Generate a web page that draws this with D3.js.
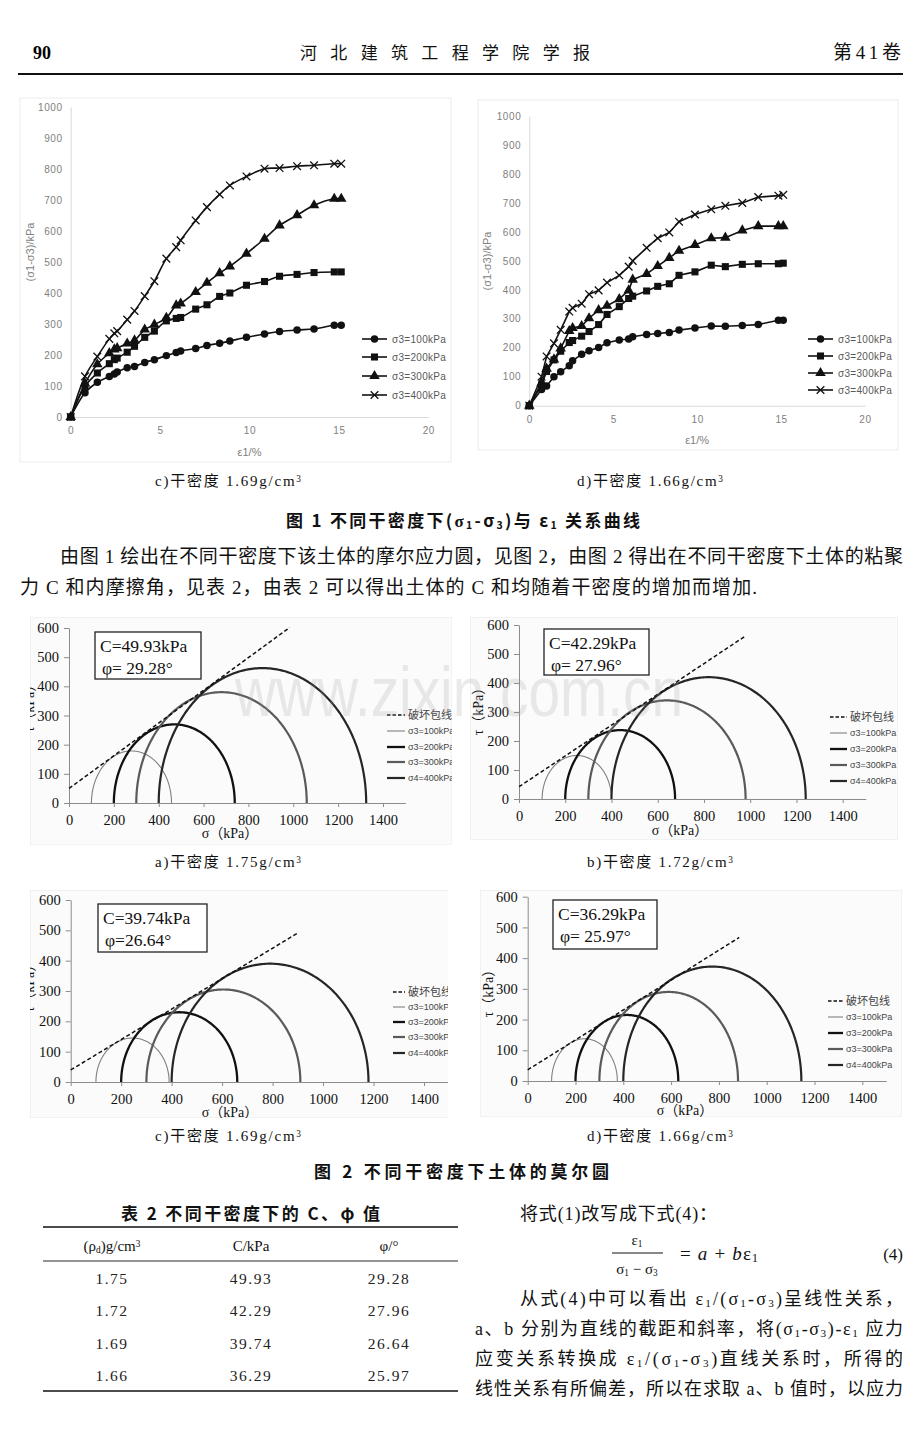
<!DOCTYPE html>
<html><head><meta charset="utf-8">
<script src="https://cdn.jsdelivr.net/npm/d3@7"></script>
<style>body{margin:0;background:#fff}svg{display:block}</style>
</head><body>
<svg id="page" width="920" height="1430"></svg>
<script>
// ---------------- DATA ----------------
// Fig.1 c) dry density 1.69
const strainC = [0,0.8,1.49,2.16,2.44,2.6,3.16,3.57,4.14,4.68,5.35,5.9,6.15,6.99,7.62,8.33,8.9,9.83,10.84,11.68,12.66,13.61,14.74,15.13];
const devC100 = [0,78,112,131,139,145,159,163,176,185,198,208,213,221,231,238,245,257,268,276,281,284,296,296];
const devC200 = [0,99,142,172,185,190,209,228,257,277,310,318,321,348,362,389,400,425,437,454,460,466,468,468];
const devC300 = [0,108,170,206,218,222,237,247,282,298,320,360,366,403,433,464,486,527,575,618,651,683,704,704];
const devC400 = [0,131,195,252,270,277,314,342,390,438,511,548,570,634,677,718,747,776,801,803,809,812,817,817];
// Fig.1 d) dry density 1.66
const strainD = [0,0.73,1.03,1.47,1.87,2.38,2.58,3.12,3.56,4.13,4.63,5.36,5.92,6.16,6.99,7.65,8.34,8.92,9.87,10.84,11.68,12.69,13.64,14.84,15.13];
const devD100 = [0,56,68,100,117,138,155,178,190,201,217,227,230,238,246,249,253,261,268,275,274,277,280,295,295];
const devD200 = [0,72,118,158,188,218,225,240,256,280,315,342,370,378,396,412,421,450,462,485,480,488,490,490,492];
const devD300 = [0,78,128,160,198,258,268,275,302,330,345,368,398,435,455,482,510,535,555,578,580,605,620,620,620];
const devD400 = [0,100,170,215,262,325,338,352,385,398,425,450,480,500,545,578,598,635,660,678,690,700,720,725,728];
const strainSeriesNames = ["σ3=100kPa","σ3=200kPa","σ3=300kPa","σ3=400kPa"];
const strainTicksY = [0,100,200,300,400,500,600,700,800,900,1000];
const strainTicksX = [0,5,10,15,20];

// Fig.2 Mohr circles
const sigma3 = [100,200,300,400];
const sigma1A = [457,739,1060,1325];
const sigma1B = [400,675,980,1240];
const sigma1C = [390,660,910,1180];
const sigma1D = [375,630,880,1145];
const cohesion = [49.93,42.29,39.74,36.29];
const frictionAngle = [29.28,27.96,26.64,25.97];
const envelopeEnd = [984,982,901,885];
const mohrLegend = ["破坏包线","σ3=100kPa","σ3=200kPa","σ3=300kPa","σ4=400kPa"];
const mohrTicksY = [0,100,200,300,400,500,600];
const mohrTicksX = [0,200,400,600,800,1000,1200,1400];
const dryDensity = ["1.75","1.72","1.69","1.66"];

// ---------------- SETUP ----------------
const svg = d3.select('#page');
const CJK = '"Noto Sans CJK SC"';
const SERIF = '"Liberation Serif","Times New Roman",' + CJK;
const SANS = '"Liberation Sans",Arial,' + CJK;
const defs = svg.append('defs');
const fmtInt = d3.format('d');

function rich(g, x, y, parts, o) {
  o = o || {};
  const fs = o.fs || 18;
  const t = g.append('text').attr('x', x).attr('y', y)
    .attr('font-family', o.ff || SERIF).attr('font-size', fs).attr('fill', o.fill || '#111');
  if (o.anchor) t.attr('text-anchor', o.anchor);
  if (o.len) t.attr('textLength', o.len).attr('lengthAdjust', 'spacing');
  if (o.weight) t.attr('font-weight', o.weight);
  parts.forEach(p => {
    if (typeof p === 'string') t.append('tspan').text(p);
    else {
      const s = t.append('tspan').text(p.s).attr('font-size', fs * 0.62)
        .attr('baseline-shift', p.sub ? '-20%' : '45%');
      if (p.ff) s.attr('font-family', p.ff);
      if (p.it) s.attr('font-style', 'italic');
      if (p.big) s.attr('font-size', fs).attr('baseline-shift', null);
    }
  });
  return t;
}

// ---------------- HEADER ----------------
svg.append('text').attr('x', 33).attr('y', 59).attr('font-family', SERIF).attr('font-weight', 'bold')
  .attr('font-size', 18).text('90');
svg.append('text').attr('x', 300).attr('y', 59).attr('font-family', CJK).attr('font-size', 17)
  .attr('textLength', 290).attr('lengthAdjust', 'spacing').attr('fill', '#111').text('河北建筑工程学院学报');
svg.append('text').attr('x', 833).attr('y', 59).attr('font-family', SERIF)
  .attr('font-size', 19).attr('fill', '#111').attr('textLength', 68).attr('lengthAdjust', 'spacing').text('第41卷');
svg.append('line').attr('x1', 18).attr('x2', 903).attr('y1', 74).attr('y2', 74).attr('stroke', '#111').attr('stroke-width', 2);

// ---------------- FIG 1 ----------------
function strainChart(cfg, strain, devs) {
  const g = svg.append('g');
  g.append('rect').attr('x', cfg.panel[0]).attr('y', cfg.panel[1]).attr('width', cfg.panel[2] - cfg.panel[0])
    .attr('height', cfg.panel[3] - cfg.panel[1]).attr('fill', '#fff').attr('stroke', '#ececec');
  const x = d3.scaleLinear().domain([0, 20]).range([cfg.x0, cfg.x1]);
  const y = d3.scaleLinear().domain([0, 1000]).range([cfg.y0, cfg.y1]);
  const ya = g.append('g').attr('transform', `translate(${cfg.x0},0)`)
    .call(d3.axisLeft(y).tickValues(strainTicksY).tickFormat(fmtInt).tickSize(0).tickSizeOuter(0).tickPadding(8));
  const xa = g.append('g').attr('transform', `translate(0,${cfg.y0})`)
    .call(d3.axisBottom(x).tickValues(strainTicksX).tickFormat(fmtInt).tickSize(0).tickSizeOuter(0).tickPadding(10));
  [ya, xa].forEach(a => {
    a.select('.domain').attr('stroke', '#d9d9d9');
    a.selectAll('text').attr('fill', '#808080').attr('font-family', SANS).attr('font-size', 10).attr('letter-spacing', 0.6);
  });
  g.append('text').attr('transform', `translate(${cfg.ylab[0]},${cfg.ylab[1]}) rotate(-90)`)
    .attr('text-anchor', 'middle').attr('dy', '0.35em').attr('font-family', SANS).attr('font-size', 11)
    .attr('fill', '#808080').text('(σ1-σ3)/kPa');
  g.append('text').attr('x', (cfg.x0 + cfg.x1) / 2).attr('y', cfg.xlabY).attr('text-anchor', 'middle')
    .attr('dy', '0.35em').attr('font-family', SANS).attr('font-size', 11).attr('fill', '#808080').text('ε1/%');
  const line = d3.line().x(d => x(d[0])).y(d => y(d[1])).curve(cfg.curve);
  const syms = [d3.symbolCircle, d3.symbolSquare, d3.symbolTriangle, d3.symbolTimes];
  const sizes = [44, 50, 48, 40];
  function marker(sel, i) {
    sel.attr('d', d3.symbol(syms[i], sizes[i]));
    if (i === 3) sel.attr('fill', 'none').attr('stroke', '#111').attr('stroke-width', 1.3);
    else sel.attr('fill', '#111').attr('stroke', 'none');
  }
  devs.forEach((dv, i) => {
    const pts = strain.map((s, k) => [s, dv[k]]);
    g.append('path').datum(pts).attr('d', line).attr('fill', 'none').attr('stroke', '#111').attr('stroke-width', 1.6);
    g.selectAll(null).data(pts).enter().append('path')
      .attr('transform', d => `translate(${x(d[0])},${y(d[1])})`).call(marker, i);
  });
  strainSeriesNames.forEach((nm, i) => {
    const ly = cfg.legY[i];
    g.append('line').attr('x1', cfg.legX).attr('x2', cfg.legX + 25).attr('y1', ly).attr('y2', ly)
      .attr('stroke', '#111').attr('stroke-width', 1.6);
    g.append('path').attr('transform', `translate(${cfg.legX + 12.5},${ly})`).call(marker, i);
    g.append('text').attr('x', cfg.legX + 30).attr('y', ly).attr('dy', '0.35em').attr('font-family', SANS)
      .attr('font-size', 10).attr('letter-spacing', 0.3).attr('fill', '#595959').text(nm);
  });
}

strainChart({x0: 70.7, x1: 428.3, y0: 417, y1: 107, panel: [20, 98, 451, 462], legX: 362,
  legY: [339, 357, 376, 395], ylab: [30, 252], xlabY: 452, curve: d3.curveCatmullRom.alpha(0.5)},
  strainC, [devC100, devC200, devC300, devC400]);
strainChart({x0: 529.3, x1: 865, y0: 405.7, y1: 116, panel: [478, 100, 898, 450], legX: 808,
  legY: [339, 356, 373, 390], ylab: [487, 261], xlabY: 440, curve: d3.curveLinear},
  strainD, [devD100, devD200, devD300, devD400]);

function caption(cx, y, letter, dens) {
  rich(svg, cx - 73, y, [letter + ')干密度 ' + dens + 'g/cm', {s: '3'}], {fs: 15, len: 146});
}
caption(228, 486, 'c', dryDensity[2]);
caption(650, 486, 'd', dryDensity[3]);
rich(svg, 286, 527, ['图 1  不同干密度下(', {s: 'σ', big: true, ff: SERIF}, {s: '1', sub: true}, '-σ', {s: '3', sub: true},
  ')与 ε', {s: '1', sub: true}, ' 关系曲线'], {fs: 17, ff: CJK, weight: 'bold', len: 354});

rich(svg, 60, 563, ['由图 1 绘出在不同干密度下该土体的摩尔应力圆，见图 2，由图 2 得出在不同干密度下土体的粘聚'], {fs: 19, len: 843});
rich(svg, 20, 594, ['力 C 和内摩擦角，见表 2，由表 2 可以得出土体的 C 和均随着干密度的增加而增加.'], {fs: 19, len: 737});

// ---------------- FIG 2 ----------------
const circleStyle = [
  {stroke: '#808080', w: 1.1},
  {stroke: '#111', w: 2.3},
  {stroke: '#5a5a5a', w: 2.2},
  {stroke: '#262626', w: 2.2}
];
function mohrChart(cfg, s1, idx) {
  const g = svg.append('g');
  const cid = 'clip' + idx;
  defs.append('clipPath').attr('id', cid).append('rect').attr('x', cfg.panel[0]).attr('y', cfg.panel[1])
    .attr('width', cfg.clipR - cfg.panel[0]).attr('height', cfg.panel[3] - cfg.panel[1]);
  g.attr('clip-path', `url(#${cid})`);
  g.append('rect').attr('x', cfg.panel[0]).attr('y', cfg.panel[1]).attr('width', cfg.panel[2] - cfg.panel[0])
    .attr('height', cfg.panel[3] - cfg.panel[1]).attr('fill', '#fbfbfb').attr('stroke', '#e8e8e8');
  const kx = (cfg.x1400 - cfg.x0) / 1400;
  const x = d3.scaleLinear().domain([0, 1500]).range([cfg.x0, cfg.x0 + 1500 * kx]);
  const y = d3.scaleLinear().domain([0, 600]).range([cfg.y0, cfg.y600]);
  const ya = g.append('g').attr('transform', `translate(${cfg.x0},0)`)
    .call(d3.axisLeft(y).tickValues(mohrTicksY).tickFormat(fmtInt).tickSize(5).tickSizeOuter(0).tickPadding(5));
  const xa = g.append('g').attr('transform', `translate(0,${cfg.y0})`)
    .call(d3.axisBottom(x).tickValues(mohrTicksX).tickFormat(fmtInt).tickSize(4).tickSizeOuter(0).tickPadding(8));
  [ya, xa].forEach(a => {
    a.select('.domain').attr('stroke', '#8c8c8c');
    a.selectAll('.tick line').attr('stroke', '#8c8c8c');
    a.selectAll('text').attr('fill', '#111').attr('font-family', SERIF).attr('font-size', 14.5);
  });
  g.append('text').attr('x', cfg.xlab[0]).attr('y', cfg.xlab[1]).attr('text-anchor', 'middle')
    .attr('font-family', SERIF).attr('font-size', 14).attr('fill', '#111').text('σ（kPa）');
  g.append('text').attr('transform', `translate(${cfg.ylab[0]},${cfg.ylab[1]}) rotate(-90)`)
    .attr('text-anchor', 'middle').attr('dy', '0.35em').attr('font-family', SERIF).attr('font-size', 14)
    .attr('fill', '#111').text('τ（kPa）');
  const line = d3.line().x(d => x(d[0])).y(d => y(d[1]));
  sigma3.forEach((s3, i) => {
    const c = (s3 + s1[i]) / 2, r = (s1[i] - s3) / 2;
    const pts = d3.range(0, 181, 1).map(a => [c - r * Math.cos(a * Math.PI / 180), r * Math.sin(a * Math.PI / 180)]);
    g.append('path').datum(pts).attr('d', line).attr('fill', 'none')
      .attr('stroke', circleStyle[i].stroke).attr('stroke-width', circleStyle[i].w);
  });
  const tanp = Math.tan(frictionAngle[idx] * Math.PI / 180);
  g.append('path').datum([[0, cohesion[idx]], [envelopeEnd[idx], cohesion[idx] + envelopeEnd[idx] * tanp]])
    .attr('d', line).attr('fill', 'none').attr('stroke', '#111').attr('stroke-width', 1.5).attr('stroke-dasharray', '4,2.5');
  // parameter box
  const b = cfg.box;
  g.append('rect').attr('x', b[0]).attr('y', b[1]).attr('width', b[2]).attr('height', b[3])
    .attr('fill', '#fff').attr('stroke', '#222').attr('stroke-width', 1.3);
  g.append('text').attr('x', b[0] + 5).attr('y', b[1] + 20).attr('font-family', SERIF).attr('font-size', 17.5)
    .attr('fill', '#111').text('C=' + cohesion[idx].toFixed(2) + 'kPa');
  g.append('text').attr('x', b[0] + 7).attr('y', b[1] + 42).attr('font-family', SERIF).attr('font-size', 17.5)
    .attr('fill', '#111').text(' φ=' + cfg.phiSep + frictionAngle[idx].toFixed(2) + '°');
  // legend
  mohrLegend.forEach((nm, i) => {
    const ly = cfg.legY[i];
    const l = g.append('line').attr('x1', cfg.legX).attr('x2', cfg.legX + cfg.legW).attr('y1', ly).attr('y2', ly);
    if (i === 0) l.attr('stroke', '#111').attr('stroke-width', 1.6).attr('stroke-dasharray', '3.5,2');
    else l.attr('stroke', circleStyle[i - 1].stroke).attr('stroke-width', circleStyle[i - 1].w);
    g.append('text').attr('x', cfg.legX + cfg.legW + 3).attr('y', ly).attr('dy', '0.35em')
      .attr('font-family', i === 0 ? CJK : SANS).attr('font-size', i === 0 ? 11 : 9).attr('fill', '#444').text(nm);
  });
}
mohrChart({x0: 69, x1400: 383, y0: 803, y600: 628, panel: [30, 617, 452, 845], clipR: 452,
  box: [95, 632, 106, 47], legX: 387, legW: 18, legY: [715, 731, 747, 762, 778],
  xlab: [230, 838], ylab: [29, 705], phiSep: ' '}, sigma1A, 0);
mohrChart({x0: 519, x1400: 842.7, y0: 799, y600: 625, panel: [470, 617, 898, 840], clipR: 898,
  box: [544, 629, 105, 46], legX: 830, legW: 17, legY: [717, 733, 749, 765, 781],
  xlab: [680, 835], ylab: [478, 708], phiSep: ' '}, sigma1B, 1);
mohrChart({x0: 70.7, x1400: 424, y0: 1082, y600: 900, panel: [30, 890, 452, 1118], clipR: 448,
  box: [98, 904, 109, 48], legX: 393, legW: 12, legY: [992, 1007, 1022, 1037, 1053],
  xlab: [230, 1117], ylab: [29, 985], phiSep: ''}, sigma1C, 2);
mohrChart({x0: 527.7, x1400: 862.3, y0: 1081, y600: 896.7, panel: [480, 890, 902, 1117], clipR: 902,
  box: [553, 900, 104, 49], legX: 828, legW: 15, legY: [1001, 1017, 1033, 1049, 1065],
  xlab: [685, 1115], ylab: [488, 990], phiSep: ' '}, sigma1D, 3);

// watermark (faint, as in the scan)
svg.append('text').attr('x', 235).attr('y', 716).attr('font-family', SANS).attr('font-size', 70)
  .attr('textLength', 448).attr('lengthAdjust', 'spacingAndGlyphs').attr('fill', '#9a9a9a').attr('opacity', 0.2)
  .attr('pointer-events', 'none').text('www.zixin.com.cn');

caption(228, 867, 'a', dryDensity[0]);
caption(660, 867, 'b', dryDensity[1]);
caption(228, 1141, 'c', dryDensity[2]);
caption(660, 1141, 'd', dryDensity[3]);
rich(svg, 314, 1178, ['图 2  不同干密度下土体的莫尔圆'], {fs: 17, ff: CJK, weight: 'bold', len: 295});

// ---------------- TABLE 2 ----------------
rich(svg, 121, 1220, ['表 2  不同干密度下的 C、φ 值'], {fs: 17, ff: CJK, weight: 'bold', len: 259});
[[1227, 1.6], [1261, 0.9], [1391, 1.6]].forEach(r => {
  svg.append('line').attr('x1', 43).attr('x2', 458).attr('y1', r[0]).attr('y2', r[0]).attr('stroke', '#111').attr('stroke-width', r[1]);
});
const colX = [112, 251, 389];
rich(svg, colX[0], 1251, ['(ρ', {s: 'd', sub: true}, ')g/cm', {s: '3'}], {fs: 15, anchor: 'middle'});
rich(svg, colX[1], 1251, ['C/kPa'], {fs: 15, anchor: 'middle'});
rich(svg, colX[2], 1251, ['φ/°'], {fs: 15, anchor: 'middle'});
const rowY = [1284, 1316, 1349, 1381];
dryDensity.forEach((d, i) => {
  [d, cohesion[i].toFixed(2), frictionAngle[i].toFixed(2)].forEach((v, j) => {
    svg.append('text').attr('x', colX[j]).attr('y', rowY[i]).attr('text-anchor', 'middle')
      .attr('font-family', SERIF).attr('font-size', 15.5).attr('letter-spacing', 1.5).attr('fill', '#222').text(v);
  });
});

// ---------------- RIGHT COLUMN TEXT ----------------
rich(svg, 520, 1220, ['将式(1)改写成下式(4)：'], {fs: 18, len: 197});
rich(svg, 637, 1245, ['ε', {s: '1', sub: true}], {fs: 15, anchor: 'middle'});
svg.append('line').attr('x1', 612).attr('x2', 663).attr('y1', 1253).attr('y2', 1253).attr('stroke', '#111').attr('stroke-width', 1);
rich(svg, 637, 1274, ['σ', {s: '1', sub: true}, ' − σ', {s: '3', sub: true}], {fs: 15, anchor: 'middle'});
rich(svg, 680, 1260, ['= ', {s: 'a', big: true, it: true}, ' + ', {s: 'b', big: true, it: true}, 'ε', {s: '1', sub: true}], {fs: 19, len: 78});
rich(svg, 903, 1260, ['(4)'], {fs: 17, anchor: 'end'});
rich(svg, 520, 1305, ['从式(4)中可以看出 ε', {s: '1', sub: true}, '/(σ', {s: '1', sub: true}, '-σ', {s: '3', sub: true}, ')呈线性关系，'], {fs: 18, len: 383});
rich(svg, 475, 1335, ['a、b 分别为直线的截距和斜率，将(σ', {s: '1', sub: true}, '-σ', {s: '3', sub: true}, ')-ε', {s: '1', sub: true}, ' 应力'], {fs: 18, len: 428});
rich(svg, 475, 1365, ['应变关系转换成 ε', {s: '1', sub: true}, '/(σ', {s: '1', sub: true}, '-σ', {s: '3', sub: true}, ')直线关系时，所得的'], {fs: 18, len: 428});
rich(svg, 475, 1395, ['线性关系有所偏差，所以在求取 a、b 值时，以应力'], {fs: 18, len: 428});
</script>
</body></html>
